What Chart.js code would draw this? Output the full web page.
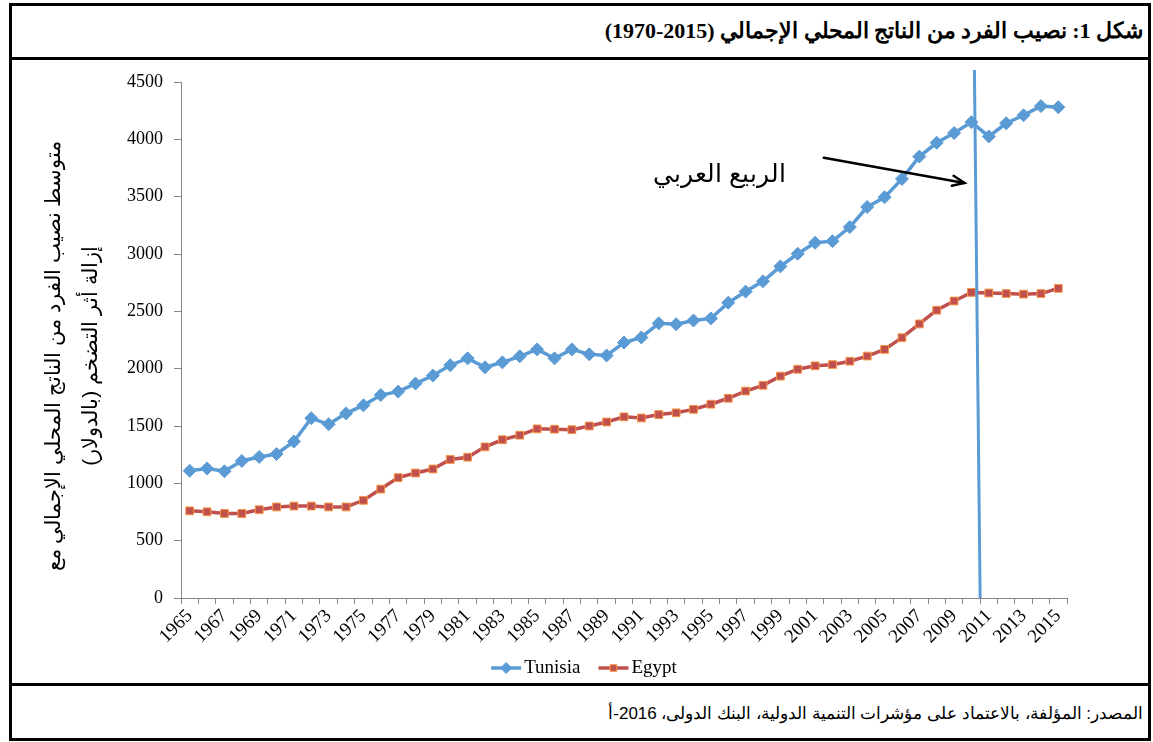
<!DOCTYPE html>
<html lang="ar">
<head>
<meta charset="utf-8">
<script src="https://cdn.jsdelivr.net/npm/chart.js@4.4.1/dist/chart.umd.min.js"></script>
<style>
html, body { margin: 0; padding: 0; background: #fff; }
body { width: 1153px; height: 742px; position: relative; overflow: hidden; }
.frame { position: absolute; left: 9px; top: 3px; width: 1142px; height: 738px; border: 3px solid #000; box-sizing: border-box; }
.rule { position: absolute; left: 9px; width: 1142px; height: 3px; background: #000; }
#title { position: absolute; right: 10px; top: 18px; direction: rtl; font: bold 22px "Liberation Serif", serif; color: #000; white-space: nowrap; }
#src { position: absolute; right: 10px; top: 703px; direction: rtl; font: 17px "Liberation Sans", Arial, sans-serif; color: #000; white-space: nowrap; }
#wrap { position: absolute; left: 12px; top: 60px; width: 1136px; height: 623px; }
</style>
</head>
<body>
<div class="frame"></div>
<div class="rule" style="top:57px"></div>
<div class="rule" style="top:683px"></div>
<div id="title">شكل 1: نصيب الفرد من الناتج المحلي الإجمالي (2015-1970)</div>
<div id="wrap"><canvas id="c" width="1136" height="623" dir="rtl"></canvas></div>
<div id="src">المصدر: المؤلفة، بالاعتماد على مؤشرات التنمية الدولية، البنك الدولى، 2016-أ</div>
<script>
// GDP per capita, constant US$
var YEARS = ['1965','1966','1967','1968','1969','1970','1971','1972','1973','1974','1975','1976','1977','1978','1979',
  '1980','1981','1982','1983','1984','1985','1986','1987','1988','1989','1990','1991','1992','1993','1994','1995',
  '1996','1997','1998','1999','2000','2001','2002','2003','2004','2005','2006','2007','2008','2009','2010','2011',
  '2012','2013','2014','2015'];
var TUNISIA = [1110, 1130, 1105, 1195, 1230, 1256, 1365, 1568, 1515, 1610, 1680, 1770, 1800, 1870, 1940,
  2030, 2090, 2012, 2055, 2108, 2168, 2090, 2168, 2125, 2115, 2228, 2272, 2395, 2388, 2420, 2438,
  2575, 2672, 2762, 2892, 3002, 3098, 3112, 3235, 3410, 3495, 3655, 3850, 3970, 4055, 4150, 4025,
  4140, 4210, 4290, 4280];
var EGYPT = [760, 752, 737, 737, 770, 794, 802, 802, 794, 794, 852, 950, 1050, 1090, 1125,
  1208, 1228, 1318, 1380, 1420, 1475, 1472, 1468, 1500, 1535, 1580, 1570, 1600, 1615, 1645, 1690,
  1742, 1805, 1855, 1935, 1995, 2025, 2035, 2065, 2110, 2168, 2270, 2390, 2510, 2590, 2665, 2660,
  2655, 2650, 2655, 2700];
var SERIES = ['Tunisia', 'Egypt'];
var Y_TITLE = ['متوسط نصيب الفرد من الناتج المحلي الإجمالي مع', 'إزالة أثر التضخم (بالدولار)'];
var SPRING_LABEL = 'الربيع العربي';
// annotation anchors in data units: [category index, value]
var SPRING_LINE = [[45.17, 4605], [45.5, 0]];
var SPRING_ARROW = [[36.5, 3840], [44.6, 3620]];
var SPRING_TEXT = [30.5, 3690];

var BLUE = '#5B9BD5', RED = '#C0504D', ORANGE = '#F79646', AXIS = '#868686';

var springPlugin = {
  id: 'spring',
  afterDatasetsDraw: function (c) {
    var x = c.scales.x, y = c.scales.y, ctx = c.ctx;
    function px(p) { return [x.getPixelForValue(p[0]), y.getPixelForValue(p[1])]; }
    ctx.save();
    // vertical marker
    var a = px(SPRING_LINE[0]), b = px(SPRING_LINE[1]);
    ctx.strokeStyle = BLUE; ctx.lineWidth = 3;
    ctx.beginPath(); ctx.moveTo(a[0], a[1]); ctx.lineTo(b[0], b[1]); ctx.stroke();
    // arrow
    var s = px(SPRING_ARROW[0]), e = px(SPRING_ARROW[1]);
    var ang = Math.atan2(e[1] - s[1], e[0] - s[0]), L = 13;
    ctx.strokeStyle = '#000'; ctx.lineWidth = 2.5; ctx.lineCap = 'round';
    ctx.beginPath(); ctx.moveTo(s[0], s[1]); ctx.lineTo(e[0], e[1]); ctx.stroke();
    ctx.beginPath();
    ctx.moveTo(e[0] - L * Math.cos(ang - 0.4), e[1] - L * Math.sin(ang - 0.4));
    ctx.lineTo(e[0], e[1]);
    ctx.lineTo(e[0] - L * Math.cos(ang + 0.4), e[1] - L * Math.sin(ang + 0.4));
    ctx.stroke();
    // label
    var t = px(SPRING_TEXT);
    ctx.direction = 'rtl';
    ctx.fillStyle = '#000'; ctx.font = '25px "Liberation Sans", Arial, sans-serif';
    ctx.textAlign = 'center'; ctx.textBaseline = 'middle';
    ctx.fillText(SPRING_LABEL, t[0], t[1]);
    ctx.restore();
  }
};

// rotated two-line y title, a little below the axis middle as in the figure
var yTitlePlugin = {
  id: 'yTitle',
  afterDraw: function (c) {
    var ctx = c.ctx, ca = c.chartArea;
    ctx.save();
    ctx.direction = 'rtl';
    ctx.fillStyle = '#000'; ctx.font = '21px "Liberation Sans", Arial, sans-serif';
    ctx.textAlign = 'center'; ctx.textBaseline = 'middle';
    ctx.translate(42, (ca.top + ca.bottom) / 2 + 16);
    ctx.rotate(-Math.PI / 2);
    Y_TITLE.forEach(function (l, i) { ctx.fillText(l, 0, i * 37); });
    ctx.restore();
  }
};

// Excel-style legend: line with marker, then name
var legendPlugin = {
  id: 'xlLegend',
  afterDraw: function (c) {
    var ctx = c.ctx, ds = c.data.datasets;
    ctx.save();
    ctx.direction = 'ltr';
    ctx.font = '19px "Liberation Serif", serif';
    var seg = 30, gap = 3, sep = 18, w = 0;
    ds.forEach(function (d, i) { w += seg + gap + ctx.measureText(d.label).width + (i ? sep : 0); });
    var x0 = c.chartArea.left + (c.chartArea.right - c.chartArea.left) / 2 - 40 - w / 2, yy = c.height - 15;
    ds.forEach(function (d, i) {
      if (i) x0 += sep;
      ctx.strokeStyle = d.borderColor; ctx.lineWidth = 3.5;
      ctx.beginPath(); ctx.moveTo(x0, yy); ctx.lineTo(x0 + seg, yy); ctx.stroke();
      ctx.fillStyle = d.pointBackgroundColor; ctx.strokeStyle = d.pointBorderColor; ctx.lineWidth = d.pointBorderWidth;
      Chart.helpers.drawPoint(ctx, { pointStyle: d.pointStyle, radius: d.pointRadius * 0.85, borderWidth: d.pointBorderWidth },
        x0 + seg / 2, yy);
      ctx.fillStyle = '#000'; ctx.textAlign = 'left'; ctx.textBaseline = 'middle';
      ctx.fillText(d.label, x0 + seg + gap, yy);
      x0 += seg + gap + ctx.measureText(d.label).width;
    });
    ctx.restore();
  }
};

new Chart(document.getElementById('c'), {
  type: 'line',
  data: {
    labels: YEARS,
    datasets: [
      { label: SERIES[0], data: TUNISIA, borderColor: BLUE, borderWidth: 3.5, tension: 0,
        pointStyle: 'rectRot', pointRadius: 6.5, pointBackgroundColor: BLUE, pointBorderColor: BLUE, pointBorderWidth: 1 },
      { label: SERIES[1], data: EGYPT, borderColor: RED, borderWidth: 3.5, tension: 0,
        pointStyle: 'rect', pointRadius: 5.5, pointBackgroundColor: RED, pointBorderColor: ORANGE, pointBorderWidth: 1 }
    ]
  },
  options: {
    responsive: false, animation: false, devicePixelRatio: 1,
    layout: { padding: { left: 0, top: 22, right: 81, bottom: 0 } },
    plugins: { legend: { display: false }, tooltip: { enabled: false } },
    scales: {
      x: {
        offset: true,
        grid: { offset: true, drawOnChartArea: false, drawTicks: true, tickLength: 6, color: AXIS },
        border: { color: AXIS },
        ticks: { autoSkip: false, maxRotation: 45, minRotation: 45, padding: 1, color: '#000',
          font: { family: '"Liberation Serif", serif', size: 19 },
          callback: function (v, i) { return i % 2 === 0 ? YEARS[i] : ''; } },
        afterFit: function (s) { s.height = 85; }
      },
      y: {
        min: 0, max: 4500,
        grid: { drawOnChartArea: false, tickLength: 7, color: AXIS },
        border: { color: AXIS },
        ticks: { stepSize: 500, padding: 11, color: '#000', font: { family: '"Liberation Serif", serif', size: 18 },
          callback: function (v) { return String(v); } },
        afterFit: function (s) { s.width = 169; }
      }
    }
  },
  plugins: [springPlugin, yTitlePlugin, legendPlugin]
});
</script>
</body>
</html>
